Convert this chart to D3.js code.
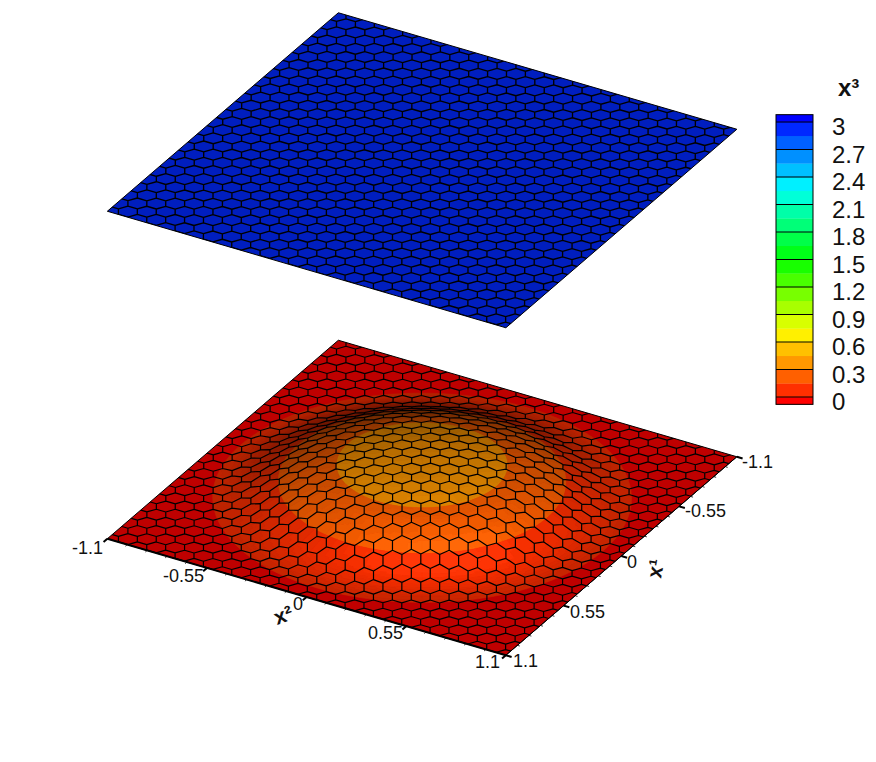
<!DOCTYPE html>
<html><head><meta charset="utf-8">
<style>html,body{margin:0;padding:0;background:#fff}svg{display:block}text{font-family:"Liberation Sans",Arial,sans-serif;fill:#111}</style>
<script src="https://cdn.jsdelivr.net/npm/d3@7"></script></head><body>
<svg id="c" width="876" height="762"></svg>
<script>
// ---- values ----
const axisTicks = [-1.1, -0.55, 0, 0.55, 1.1];
const axisTickLabels = ["-1.1", "-0.55", "0", "0.55", "1.1"];
const legendTicks = [3, 2.7, 2.4, 2.1, 1.8, 1.5, 1.2, 0.9, 0.6, 0.3, 0];
const legendLabels = ["3", "2.7", "2.4", "2.1", "1.8", "1.5", "1.2", "0.9", "0.6", "0.3", "0"];
const contourLevels = [0, .15, .3, .45, .6, .75, .9, 1.05, 1.2, 1.35, 1.5, 1.65, 1.8, 1.95, 2.1, 2.25, 2.4, 2.55, 2.7, 2.85, 3];
const contourColors = ["#ff0000", "#ff3000", "#ff6000", "#ff9800", "#ffc000", "#fff000", "#d8ff00", "#a8ff00", "#78ff00", "#48ff00", "#18ff00", "#00ff18", "#00ff48", "#00ff78", "#00ffa8", "#00ffd8", "#00f0ff", "#00c0ff", "#0090ff", "#0060ff", "#0028ff", "#0000ff"];
const legendRange = [-0.08, 3.08];
// bump: height of the lower surface against distance from the centre
const bumpRadius = [0, .1, .2, .3, .415, .5, .6, .69, .76, .82, .88, .93, .97, 1];
const bumpHeight = [.358, .355, .347, .33, .30, .27, .215, .15, .098, .055, .024, .008, .002, 0];
const upperHeight = 3, lowerHeight = 0;
const meshPitch = 0.0903;
const meshOffset = [0.015, 0.003];

// ---- scales ----
const axis = [-1.1, 1.1];
const x2X = d3.scaleLinear().domain(axis).range([-199.25, 199.25]);
const x2Y = d3.scaleLinear().domain(axis).range([-58.25, 58.25]);
const x1X = d3.scaleLinear().domain(axis).range([115.5, -115.5]);
const x1Y = d3.scaleLinear().domain(axis).range([-99.25, 99.25]);
const zY = d3.scaleLinear().domain([0, 3]).range([0, -327.5]);
const cx = 422.1, cy = 497.75;
const project = (x1, x2, z) => [cx + x2X(x2) + x1X(x1), cy + x2Y(x2) + x1Y(x1) + zY(z)];
const legendY = d3.scaleLinear().domain([0, 3]).range([397, 122]);
const color = d3.scaleThreshold().domain(contourLevels).range(contourColors);
const bandColor = z => color(z - 1e-6);
const bump = d3.scaleLinear().domain(bumpRadius).range(bumpHeight).clamp(true);

const svg = d3.select("#c");
const path = d3.line();
const defs = svg.append("defs");

function shaded(base, s) {
  const c = d3.rgb(base), spec = Math.max(0, s - .95) * 150;
  return d3.rgb(Math.min(255, c.r * s + spec), Math.min(255, c.g * s + spec), Math.min(255, c.b * s + spec)).formatHex();
}
const flatShade = 0.75;
const light = [0.606, 0.795];
function domeShade(r, th) {
  const d = .03, g = (bump(Math.min(1, r + d)) - bump(Math.max(0, r - d))) / (Math.min(1, r + d) - Math.max(0, r - d));
  const tilt = -g / Math.hypot(1, g);
  const lit = tilt * (Math.cos(th) * light[0] + Math.sin(th) * light[1]);
  return flatShade + (lit > 0 ? 0.42 : 0.6) * lit;
}

// hexagonal mesh, in (x1,x2) coordinates
const R = meshPitch / Math.sqrt(3);
const hexCorner = d3.range(6).map(i => [Math.sin(i * Math.PI / 3) * R, Math.cos(i * Math.PI / 3) * R]); // [x1,x2]
const cols = d3.range(-16, 17), rows = d3.range(-16, 17);
const hexCentres = [];
cols.forEach(i => rows.forEach(j => {
  const c2 = i * meshPitch * Math.sqrt(3) / 2 + meshOffset[1], c1 = (j + (i & 1 ? .5 : 0)) * meshPitch + meshOffset[0];
  if (Math.abs(c1) < 1.1 + R && Math.abs(c2) < 1.1 + R) hexCentres.push([c1, c2]);
}));

function plate(id, z0, heightAt, fill, lineWidth) {
  const corners = [[-1.1, -1.1], [-1.1, 1.1], [1.1, 1.1], [1.1, -1.1]].map(p => project(p[0], p[1], z0));
  defs.append("clipPath").attr("id", id).append("path").attr("d", path(corners) + "Z");
  const g = svg.append("g");
  g.append("path").attr("d", path(corners) + "Z").attr("fill", shaded(bandColor(z0), flatShade));
  if (fill) fill(g);
  const lines = hexCentres.map(c => path(hexCorner.map(v => {
    const a = c[0] + v[0], b = c[1] + v[1];
    return project(a, b, heightAt(a, b));
  })) + "Z").join("");
  g.append("path").attr("d", lines).attr("clip-path", `url(#${id})`).attr("fill", "none").attr("stroke", "#000").attr("stroke-width", lineWidth).attr("stroke-linejoin", "round");
  g.append("path").attr("d", path(corners) + "Z").attr("fill", "none").attr("stroke", "#000").attr("stroke-width", 1);
}

// lower surface with bump
plate("clipLow", lowerHeight, (a, b) => { const r = Math.hypot(a, b); return r >= 1 ? lowerHeight : bump(r); }, g => {
  const rings = d3.range(0, 100), secs = d3.range(0, 180), groups = new Map();
  rings.forEach(i => secs.forEach(j => {
    const r0 = i * .01, r1 = (i + 1) * .01, t0 = j * 2 * Math.PI / 180, t1 = (j + 1) * 2 * Math.PI / 180, rm = (r0 + r1) / 2, tm = (t0 + t1) / 2;
    const s = Math.round(domeShade(rm, tm) * 50) / 50;
    const col = shaded(bandColor(bump(rm)), s);
    const q = [[r0, t0], [r1, t0], [r1, t1], [r0, t1]].map(p => project(p[0] * Math.sin(p[1]), p[0] * Math.cos(p[1]), bump(p[0])));
    const d = "M" + q.map(p => p[0].toFixed(2) + "," + p[1].toFixed(2)).join("L") + "Z";
    if (!groups.has(col)) groups.set(col, []);
    groups.get(col).push(d);
  }));
  groups.forEach((ds, col) => g.append("path").attr("d", ds.join("")).attr("fill", col).attr("stroke", col).attr("stroke-width", .6));
}, 1.2);
// upper surface
plate("clipUp", upperHeight, () => upperHeight, null, 1.35);

// axes
const axG = svg.append("g");
axG.append("path").attr("d", path([project(1.1, -1.1, 0), project(1.1, 1.1, 0)])).attr("stroke", "#000").attr("stroke-width", 2).attr("fill", "none");
axG.append("path").attr("d", path([project(-1.1, 1.1, 0), project(1.1, 1.1, 0)])).attr("stroke", "#000").attr("stroke-width", 1).attr("fill", "none");
const minor = d3.range(-1.1, 1.1001, .11);
const unit = (dx, dy) => { const l = Math.hypot(dx, dy); return [dx / l, dy / l]; };
const d1 = unit(-231, 198.5), d2 = unit(398.5, 116.5);
const tick = (p, d, len, w) => axG.append("path").attr("d", path([p, [p[0] + d[0] * len, p[1] + d[1] * len]])).attr("stroke", "#000").attr("stroke-width", w);
minor.forEach(v => { tick(project(1.1, v, 0), d1, 2.5, .8); tick(project(v, 1.1, 0), d2, 2.5, .8); });
axisTicks.forEach(v => { tick(project(1.1, v, 0), d1, 5, 2); tick(project(v, 1.1, 0), d2, 6, 2); });
// tick labels
const x2LabelAnchor = [[103, 554], [204, 582], [303, 610], [403, 639], [500, 668]];
const x1LabelAnchor = [[742, 468], [685, 517], [627, 568], [570, 618], [513, 667]];
axisTickLabels.forEach((t, i) => {
  axG.append("text").attr("x", x2LabelAnchor[i][0]).attr("y", x2LabelAnchor[i][1]).attr("text-anchor", "end").attr("font-size", 18).text(t);
  axG.append("text").attr("x", x1LabelAnchor[i][0]).attr("y", x1LabelAnchor[i][1]).attr("font-size", 18).text(t);
});
axG.append("text").attr("transform", "translate(277,625) rotate(-20)").attr("font-size", 21).attr("font-weight", "bold").text("x²");
axG.append("text").attr("transform", "translate(661,579) rotate(-80)").attr("font-size", 21).attr("font-weight", "bold").text("x¹");

// legend
const lg = svg.append("g");
const edges = [legendRange[0], ...contourLevels, legendRange[1]];
contourColors.forEach((c, i) => {
  lg.append("rect").attr("x", 776).attr("width", 37).attr("y", legendY(edges[i + 1])).attr("height", legendY(edges[i]) - legendY(edges[i + 1]) + .3).attr("fill", c);
});
legendTicks.forEach((v, i) => {
  lg.append("line").attr("x1", 776).attr("x2", 813).attr("y1", legendY(v)).attr("y2", legendY(v)).attr("stroke", "#000").attr("stroke-width", 1);
  lg.append("text").attr("x", 832).attr("y", legendY(v) + 13).attr("font-size", 24).text(legendLabels[i]);
});
lg.append("rect").attr("x", 776).attr("y", legendY(legendRange[1])).attr("width", 37).attr("height", legendY(legendRange[0]) - legendY(legendRange[1])).attr("fill", "none").attr("stroke", "#000").attr("stroke-width", 1);
lg.append("text").attr("x", 838).attr("y", 96).attr("font-size", 24).attr("font-weight", "bold").text("x³");
</script></body></html>
